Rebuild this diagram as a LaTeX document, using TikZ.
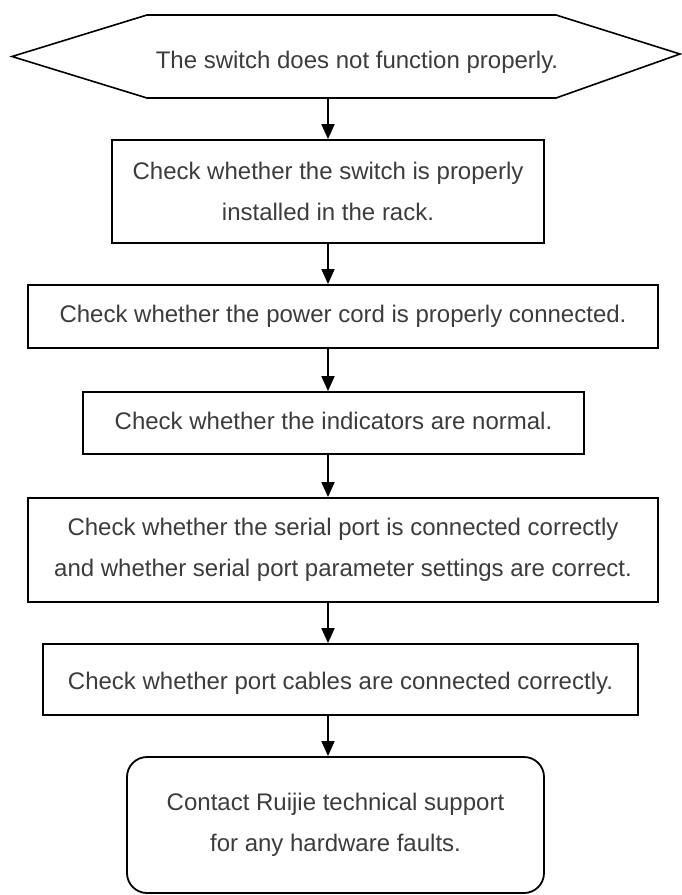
\documentclass[tikz,border=0pt]{standalone}
\usepackage{fontspec}
\setmainfont{Liberation Sans}
\usetikzlibrary{arrows.meta}
\definecolor{txt}{HTML}{3C3C3C}
\tikzset{
  every node/.style={font=\fontsize{24}{41}\selectfont, text=txt},
  stepbox/.style={draw=black, line width=1.8pt, align=center, inner sep=0pt},
  endbox/.style={stepbox, rounded corners=20pt},
  arr/.style={line width=1.8pt, -{Triangle[width=13pt,length=15pt]}},
  hexline/.style={draw=black, line width=1.6pt, line join=miter}
}
\begin{document}
\begin{tikzpicture}[x=1pt,y=1pt]
\useasboundingbox (0,0) rectangle (682,-895);
% start hexagon
\coordinate (hL) at (12,-56.5);
\coordinate (hTL) at (147,-15);
\coordinate (hTR) at (556,-15);
\coordinate (hR) at (680,-54);
\coordinate (hBR) at (556,-98);
\coordinate (hBL) at (147,-98);
\draw[hexline] (hL) -- (hTL) -- (hTR) -- (hR) -- (hBR) -- (hBL) -- cycle;
\node[anchor=base, inner sep=0pt] (hex) at (357,-68) {The switch does not function properly.};
\coordinate (hexB) at (328,-98);
\coordinate (ax) at (328,0);
% steps
\node[stepbox, minimum width=432pt, minimum height=103pt] (b1) at (328,-191.5)
  {Check whether the switch is properly\\installed in the rack.};
\node[stepbox, minimum width=630pt, minimum height=63pt, text height=17pt, text depth=5pt] (b2) at (343,-316.5)
  {Check whether the power cord is properly connected.};
\node[stepbox, minimum width=501pt, minimum height=62pt, text height=17pt, text depth=5pt] (b3) at (333.5,-423)
  {Check whether the indicators are normal.};
\node[stepbox, minimum width=630pt, minimum height=104pt] (b4) at (343,-550)
  {Check whether the serial port is connected correctly\\and whether serial port parameter settings are correct.};
\node[stepbox, minimum width=595pt, minimum height=71pt, text height=25pt, text depth=5pt] (b5) at (340.5,-679.5)
  {Check whether port cables are connected correctly.};
\node[endbox, minimum width=417pt, minimum height=136pt] (b6) at (335.5,-825)
  {Contact Ruijie technical support\\for any hardware faults.};
% connectors
\draw[arr] (hexB) -- (b1.north -| ax);
\draw[arr] (b1.south -| ax) -- (b2.north -| ax);
\draw[arr] (b2.south -| ax) -- (b3.north -| ax);
\draw[arr] (b3.south -| ax) -- (b4.north -| ax);
\draw[arr] (b4.south -| ax) -- (b5.north -| ax);
\draw[arr] (b5.south -| ax) -- (b6.north -| ax);
\end{tikzpicture}
\end{document}
